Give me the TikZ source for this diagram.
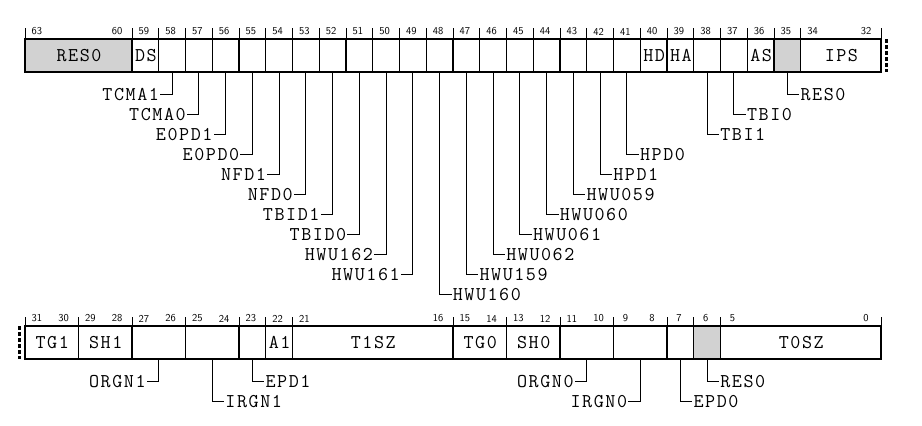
\documentclass[tikz,border=0pt]{standalone}
\usepackage{fontspec}
\newfontfamily\regfont{Latin Modern Mono}[LetterSpace=8]
\begin{document}
\begin{tikzpicture}[x=1pt,y=-1pt,
  field/.style={draw,line width=1.1pt,minimum height=33pt,inner sep=0pt,
    font=\fontsize{19.5}{21}\regfont},
  bitno/.style={font=\fontsize{10.5}{12}\sffamily,inner sep=0pt},
  tick/.style={line width=0.9pt},
  lead/.style={line width=1pt},
  tag/.style={font=\fontsize{19.5}{21}\regfont,inner sep=1pt},
  cut/.style={line width=3pt,dash pattern=on 4pt off 2pt}]
\useasboundingbox (0,0) rectangle (922,426);
% upper word, bits 63..32
\foreach \hi/\lo/\txt/\fc in {63/60/RES0/gray!35,59/59/DS/white,58/58//white,57/57//white,
    56/56//white,55/55//white,54/54//white,53/53//white,52/52//white,51/51//white,50/50//white,
    49/49//white,48/48//white,47/47//white,46/46//white,45/45//white,44/44//white,43/43//white,
    42/42//white,41/41//white,40/40/HD/white,39/39/HA/white,38/38//white,37/37//white,
    36/36/AS/white,35/35//gray!35,34/32/IPS/white}{
  \pgfmathsetmacro\xl{25+(63-\hi)*26.75}
  \pgfmathsetmacro\xr{25+(64-\lo)*26.75}
  \node[field,fill=\fc,minimum width=\xr-\xl] (f\hi) at ({(\xl+\xr)/2},55.5) {\txt\kern-1pt};
  \draw[tick] (\xl,28) -- (\xl,39);
  \node[bitno] at ({\xl+11.9},31.5) {\hi};
  \ifnum\hi=\lo\else\node[bitno] at ({\xr-14.9},31.5) {\lo};\fi
}
\draw[tick] (881,28) -- (881,39);
\draw[cut] (886,39) -- (886,72);
% lower word, bits 31..0
\foreach \hi/\lo/\txt/\fc in {31/30/TG1/white,29/28/SH1/white,27/26//white,25/24//white,
    23/23//white,22/22/A1/white,21/16/T1SZ/white,15/14/TG0/white,13/12/SH0/white,
    11/10//white,9/8//white,7/7//white,6/6//gray!35,5/0/T0SZ/white}{
  \pgfmathsetmacro\xl{25+(31-\hi)*26.75}
  \pgfmathsetmacro\xr{25+(32-\lo)*26.75}
  \node[field,fill=\fc,minimum width=\xr-\xl] (f\hi) at ({(\xl+\xr)/2},342.5) {\txt\kern-1pt};
  \draw[tick] (\xl,317) -- (\xl,326);
  \node[bitno] at ({\xl+11.9},318.5) {\hi};
  \ifnum\hi=\lo\else\node[bitno] at ({\xr-14.9},318.5) {\lo};\fi
}
\draw[tick] (881,317) -- (881,326);
\draw[cut] (19,326) -- (19,359);
% leaders, labels to the left
\foreach \b/\lv/\txt in {58/1/TCMA1,57/2/TCMA0,56/3/E0PD1,55/4/E0PD0,54/5/NFD1,53/6/NFD0,
    52/7/TBID1,51/8/TBID0,50/9/HWU162,49/10/HWU161,27/1/ORGN1,11/1/ORGN0,9/2/IRGN0}{
  \node[tag,anchor=east] (t\b) at ([xshift=-12pt,yshift={-(2+20*\lv)*1pt}]f\b.south) {\txt};
  \draw[lead] (f\b.south) |- (t\b.east);
}
% leaders, labels to the right
\foreach \b/\lv/\txt in {48/11/HWU160,47/10/HWU159,46/9/HWU062,45/8/HWU061,44/7/HWU060,
    43/6/HWU059,42/5/HPD1,41/4/HPD0,38/3/TBI1,37/2/TBI0,35/1/RES0,
    25/2/IRGN1,23/1/EPD1,7/2/EPD0,6/1/RES0}{
  \node[tag,anchor=west] (t\b) at ([xshift=12pt,yshift={-(2+20*\lv)*1pt}]f\b.south) {\txt};
  \draw[lead] (f\b.south) |- (t\b.west);
}
\end{tikzpicture}
\end{document}
